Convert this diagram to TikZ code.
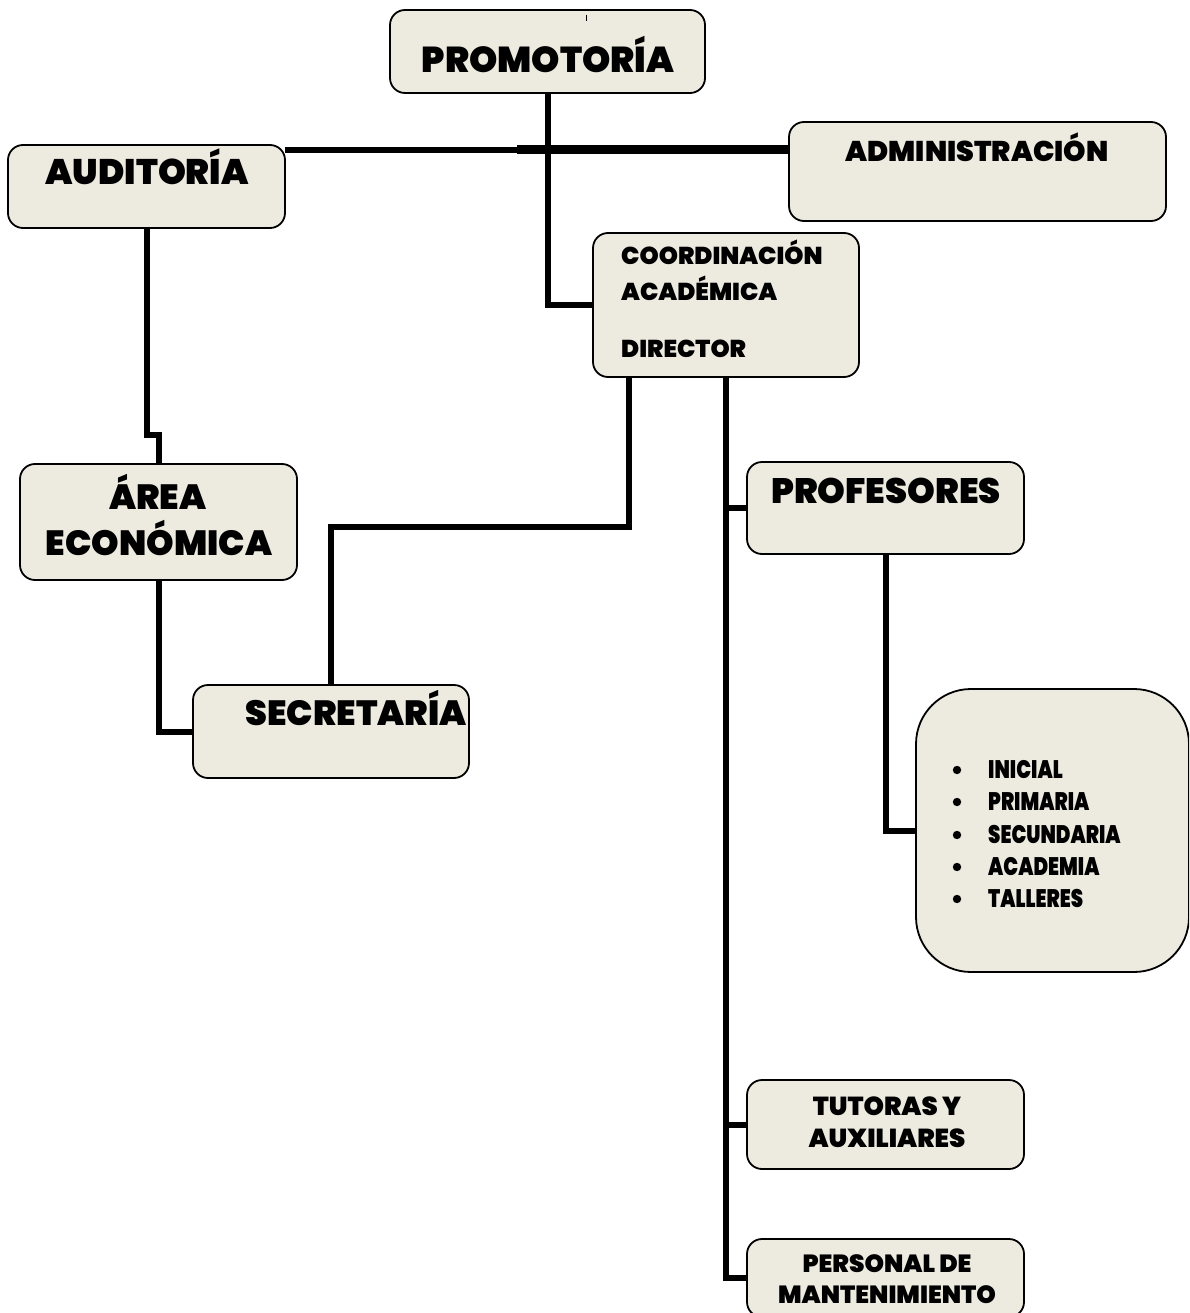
\documentclass[tikz,border=0pt]{standalone}
\usepackage{fontspec}
\setmainfont{Poppins}[BoldFont={Poppins Black}]
\newfontfamily\narrowfont{Poppins Black}[FakeStretch=0.78]
\definecolor{boxfill}{HTML}{EDEAE0}
\begin{document}
\begin{tikzpicture}[x=1pt,y=-1pt,
  box/.style={draw=black, line width=1.8pt, fill=boxfill, rounded corners=15pt,
              inner sep=0pt, outer sep=0pt},
  link/.style={line width=6pt},
  lbl/.style={inner sep=0pt, font=\bfseries}]
\useasboundingbox (0,0) rectangle (1189,1313);
\clip (0,0) rectangle (1189,1313);

% boxes
\node[box, minimum width=315pt, minimum height=83pt] (prom) at (547.5,51.5) {};
\node[box, minimum width=277pt, minimum height=83pt] (aud) at (146.5,186.5) {};
\node[box, minimum width=377pt, minimum height=99pt] (adm) at (977.5,171.5) {};
\node[box, minimum width=266pt, minimum height=144pt] (coord) at (726,305) {};
\node[box, minimum width=277pt, minimum height=92pt] (prof) at (885.5,508) {};
\node[box, minimum width=277pt, minimum height=116pt] (area) at (158.5,522) {};
\node[box, minimum width=276pt, minimum height=93pt] (secr) at (331,731.5) {};
\node[box, rounded corners=55pt, minimum width=273pt, minimum height=283pt] (niv) at (1052.5,830.5) {};
\node[box, minimum width=277pt, minimum height=89pt] (tut) at (885.5,1124.5) {};
\node[box, minimum width=277pt, minimum height=78pt] (pers) at (885.5,1278) {};

% connectors
\coordinate (juncA) at (517,150);
\coordinate (jogA) at (0,435);
\coordinate (dirA) at (629,527);
\draw[link] (prom.south) |- (coord.west);
\draw[link] (aud.east |- juncA) -- (juncA);
\draw[line width=9pt] (juncA) -- (adm.west |- juncA);
\draw[link] (aud.south) |- (area.north |- jogA) -- (area.north);
\draw[link] (area.south) |- (secr.west);
\draw[link] (coord.south -| dirA) -- (dirA) -| (secr.north);
\draw[link] (coord.south) |- (pers.west);
\draw[link] (coord.south |- prof.west) -- (prof.west);
\draw[link] (coord.south |- tut.west) -- (tut.west);
\draw[link] (prof.south) |- (niv.west);

% labels
\draw[line width=0.8pt] (586,15) -- (586,21);
\node[lbl, font=\bfseries\fontsize{36}{36}\selectfont, anchor=base] (tprom) at (548,73) {PROMOTORÍA};
\node[lbl, font=\bfseries\fontsize{35.5}{35.5}\selectfont, anchor=base] (taud) at (147,185) {AUDITORÍA};
\node[lbl, font=\bfseries\fontsize{28.5}{28.5}\selectfont, anchor=base] (tadm) at (977,162) {ADMINISTRACIÓN};
\node[lbl, font=\bfseries\fontsize{24.4}{24.4}\selectfont, anchor=base west] (tcoa) at (621,265) {COORDINACIÓN};
\node[lbl, font=\bfseries\fontsize{24.4}{24.4}\selectfont, anchor=base west] (tcob) at (621,301) {ACADÉMICA};
\node[lbl, font=\bfseries\fontsize{24.4}{24.4}\selectfont, anchor=base west] (tdir) at (621,357) {DIRECTOR};
\node[lbl, font=\bfseries\fontsize{35.3}{35.3}\selectfont, anchor=base] (tprof) at (886,503) {PROFESORES};
\node[lbl, font=\bfseries\fontsize{35}{35}\selectfont, anchor=base] (tarea) at (158,509) {ÁREA};
\node[lbl, font=\bfseries\fontsize{35}{35}\selectfont, anchor=base] (tecon) at (159,555) {ECONÓMICA};
\node[lbl, font=\bfseries\fontsize{35}{35}\selectfont, anchor=base] (tsecr) at (356,725) {SECRETARÍA};

\foreach \t/\y [count=\i] in {INICIAL/778, PRIMARIA/810, SECUNDARIA/843, ACADEMIA/875, TALLERES/907}{
  \fill (957,\y-8) circle (4.2pt);
  \node[lbl, font=\narrowfont\fontsize{25.3}{25.3}\selectfont, anchor=base west] (item\i) at (988,\y) {\t};
}

\node[lbl, font=\bfseries\fontsize{26}{26}\selectfont, anchor=base] (ttuta) at (887,1115) {TUTORAS Y};
\node[lbl, font=\bfseries\fontsize{26}{26}\selectfont, anchor=base] (ttutb) at (887,1147) {AUXILIARES};
\node[lbl, font=\bfseries\fontsize{24.8}{24.8}\selectfont, anchor=base] (tpersa) at (887,1272) {PERSONAL DE};
\node[lbl, font=\bfseries\fontsize{24.8}{24.8}\selectfont, anchor=base] (tpersb) at (887,1303) {MANTENIMIENTO};
\end{tikzpicture}
\end{document}
